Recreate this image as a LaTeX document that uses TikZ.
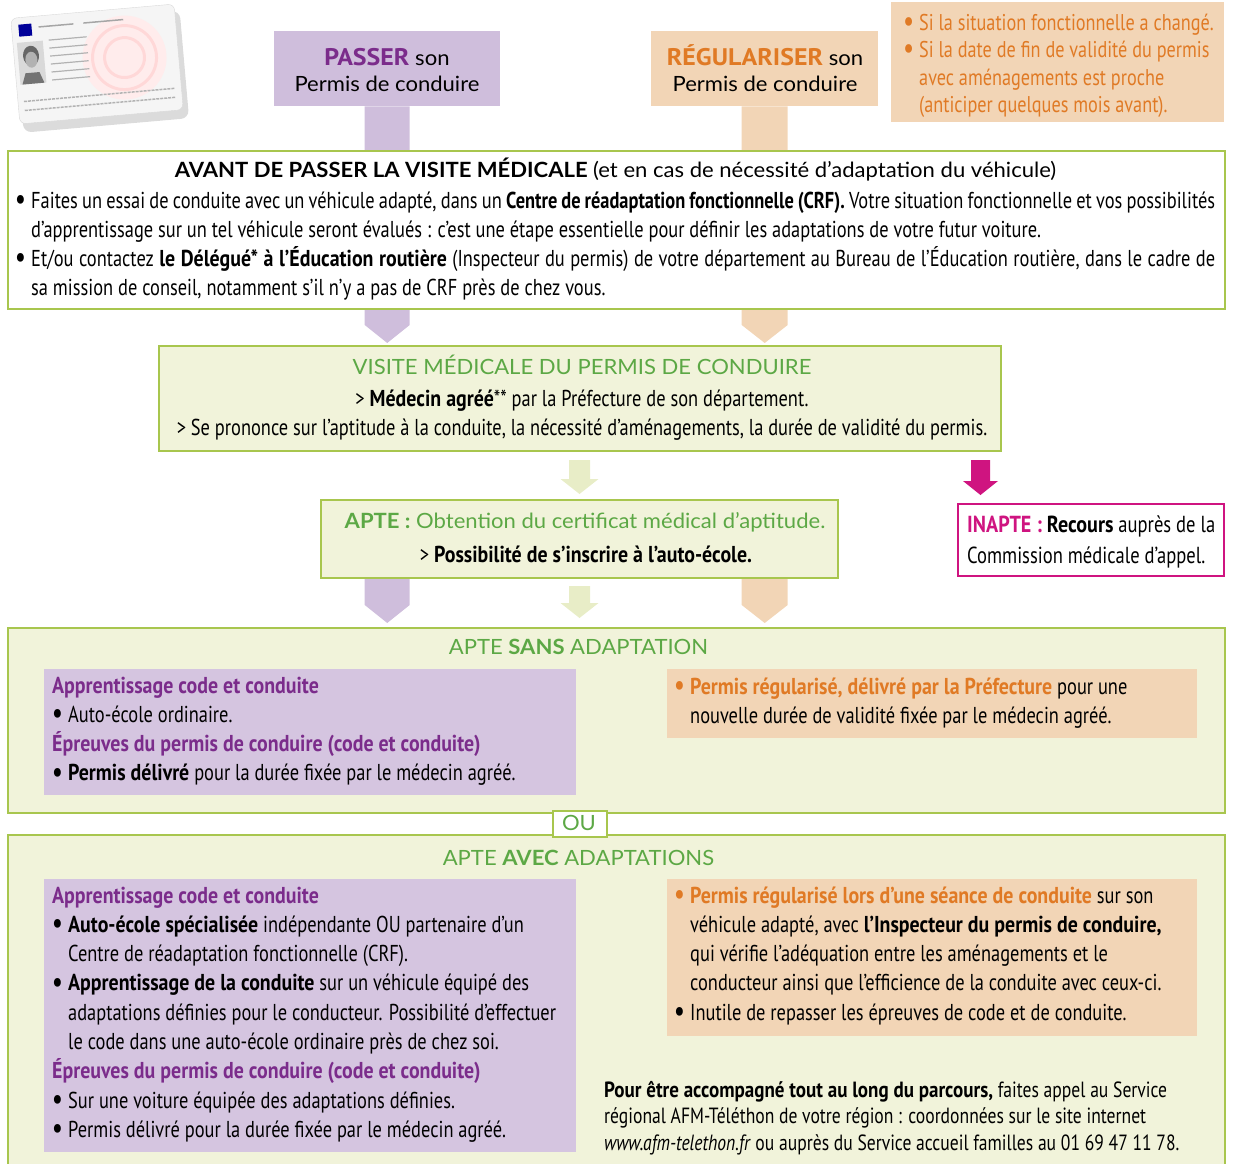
\documentclass[tikz,border=0pt]{standalone}
\usepackage{fontspec}
\setmainfont{Lato}[FakeStretch=1.05]
\newfontfamily\cnd{PT Sans}[FakeStretch=0.80,BoldFeatures={FakeStretch=0.865}]
\newfontfamily\cndb{PT Sans Bold}[FakeStretch=0.80]
\newfontfamily\sem[FakeStretch=1.08]{PT Sans}
\usetikzlibrary{positioning,calc,backgrounds}
\definecolor{lav}{HTML}{CFBEDC}
\definecolor{lavP}{HTML}{D5C5E0}
\definecolor{peach}{HTML}{F2D5B6}
\definecolor{lgreen}{HTML}{F1F3DA}
\definecolor{gline}{HTML}{A8C64E}
\definecolor{garrow}{HTML}{E8EDC7}
\definecolor{gtext}{HTML}{5CA845}
\definecolor{ptext}{HTML}{7B2C8B}
\definecolor{otext}{HTML}{E07A25}
\definecolor{mag}{HTML}{CF1480}
\newcommand{\dotb}{\raisebox{-0.1ex}{\scalebox{1.35}{\textbullet}}}
\newcommand{\bul}{\leavevmode\llap{\dotb\hspace{5pt}}}
\newcommand{\obul}{\leavevmode\llap{{\color{otext}\dotb}\hspace{5pt}}}
\newcommand{\phd}[1]{\leavevmode\hspace*{-16pt}{\bfseries\color{ptext}#1}}
% colour, top, tip, bar half width, head half width, head length
\newcommand{\fatdown}[6]{%
  \fill[#1] let \p1=#2, \p2=#3 in
    (\x2-#4,\y1) -- (\x2+#4,\y1) -- (\x2+#4,\y2+#6) -- (\x2+#5,\y2+#6)
    -- (\x2,\y2) -- (\x2-#5,\y2+#6) -- (\x2-#4,\y2+#6) -- cycle;}
\begin{document}
\begin{tikzpicture}[x=1pt,y=-1pt,
	box/.style={inner sep=0pt,anchor=north west},
	gbox/.style={box,draw=gline,line width=2pt,fill=lgreen},
	body/.style={inner sep=0pt,anchor=base west,font=\cnd\fontsize{23}{29.3}\selectfont},
	hd/.style={inner sep=0pt,anchor=base,font=\fontsize{21}{24}\selectfont}]
	\useasboundingbox (0,0) rectangle (1234,1163);
	% permis card
	\begin{scope}[shift={(97,64)},rotate=5]
	\fill[black!40,opacity=.35,rounded corners=8pt] (-79,-46) rectangle (87,62);
	\draw[fill=black!4,draw=black!15,rounded corners=6pt] (-82,-53) rectangle (82,53);
	\fill[pink!30] (28,-4) circle (42);
	\draw[pink!80,line width=3pt,opacity=.6] (28,-4) circle (32) (28,-4) circle (20);
	\fill[blue!60!black] (-75,-46) rectangle (-62,-34);
	\draw[black!35,line width=1.5pt] (-55,-42) -- (-20,-42) (-10,-42) -- (30,-42);
	\fill[black!15] (-78,-28) rectangle (-52,14);
	\fill[black!60] (-65,-14) ellipse (8 and 10);
	\fill[black!30] (-65,-10) ellipse (6 and 8);
	\fill[black!55] (-76,14) -- (-72,3) -- (-58,3) -- (-54,14) -- cycle;
	\foreach \y in {-28,-20,...,12}
		\draw[black!30,line width=1.2pt] (-46,\y) -- (-8,\y);
	\draw[black!30,line width=1.5pt,dash pattern=on 3pt off 1pt] (-76,31) -- (76,31) (-76,40) -- (76,40);
	\end{scope}
	% boxes
	\node[box,fill=lav,minimum width=226pt,minimum height=75pt] (passer) at (274,31) {};
	\node[box,fill=peach,minimum width=227pt,minimum height=75pt] (regul) at (651,31) {};
	\node[box,fill=peach,minimum width=333pt,minimum height=120pt] (note) at (891,2) {};
	\node[gbox,fill=white,minimum width=1217pt,minimum height=158pt] (avant) at (7,150) {};
	\node[gbox,minimum width=842pt,minimum height=105pt] (visite) at (158,345) {};
	\node[gbox,minimum width=517pt,minimum height=78pt] (apte) at (320,499) {};
	\node[box,draw=mag,line width=1.5pt,fill=white,minimum width=266pt,minimum height=72pt] (inapte) at (957,503) {};
	\node[gbox,minimum width=1217pt,minimum height=185pt] (sans) at (7,627) {};
	\node[box,fill=lavP,minimum width=532pt,minimum height=126pt] (sansP) at (44,669) {};
	\node[box,fill=peach,minimum width=530pt,minimum height=69pt] (sansO) at (667,669) {};
	\node[gbox,minimum width=1217pt,minimum height=345pt] (avec) at (7,834) {};
	\node[box,fill=lavP,minimum width=532pt,minimum height=273pt] (avecP) at (44,879) {};
	\node[box,fill=peach,minimum width=530pt,minimum height=157pt] (avecO) at (667,879) {};
	\node[gbox,fill=white,minimum width=54pt,minimum height=26pt] (ou) at (552,810) {};
	% arrows
	\begin{pgfonlayer}{background}
	\fatdown{lav}{(passer.south)}{($(passer.south |- visite.north)+(0,-2)$)}{22.5}{22.5}{18}
	\fatdown{peach}{(regul.south)}{($(regul.south |- visite.north)+(0,-2)$)}{23}{23}{18}
	\fatdown{lav}{(passer.south |- apte.south)}{($(passer.south |- sans.north)+(0,-4)$)}{22.5}{22.5}{18}
	\fatdown{peach}{(regul.south |- apte.south)}{($(regul.south |- sans.north)+(0,-4)$)}{23}{23}{18}
	\end{pgfonlayer}
	\fatdown{garrow}{($(visite.south)+(0,8)$)}{($(apte.north)+(0,-5)$)}{10.5}{19}{15}
	\fatdown{garrow}{($(apte.south)+(0,7)$)}{($(apte.south |- sans.north)+(0,-9)$)}{10.5}{19}{15}
	\fatdown{mag}{($(visite.south -| inapte.north west)+(23.5,8)$)}{($(inapte.north west)+(23.5,-8)$)}{9.5}{17.5}{14}
	% texts
	\node[hd] (passerA) at (387,65) {{\sem\bfseries\fontsize{24}{24}\selectfont\color{ptext}PASSER} son};
	\node[hd] (passerB) at (387,91) {Permis de conduire};
	\node[hd] (regulA) at (765,65) {{\sem\bfseries\fontsize{24}{24}\selectfont\color{otext}RÉGULARISER} son};
	\node[hd] (regulB) at (765,91) {Permis de conduire};
	\node[body,text=otext,font=\cnd\fontsize{22.8}{27.5}\selectfont] (noteT) at (919,30) {\parbox[t]{320pt}{\raggedright
		\bul Si la situation fonctionnelle a changé.\\
		\bul Si la date de fin de validité du permis\\
		avec aménagements est proche\\
		(anticiper quelques mois avant).}};
	\node[hd] (avantH) at (615.5,177) {\textbf{AVANT DE PASSER LA VISITE MÉDICALE} (et en cas de nécessité d’adaptation du véhicule)};
	\node[body] (avantT) at (31,208) {\parbox[t]{1184pt}{%
		\makebox[\linewidth][s]{\bul Faites un essai de conduite avec un véhicule adapté, dans un {\cndb Centre de réadaptation fonctionnelle (CRF).} Votre situation fonctionnelle et vos possibilités}\\
		d’apprentissage sur un tel véhicule seront évalués : c’est une étape essentielle pour définir les adaptations de votre futur voiture.\\
		\makebox[\linewidth][s]{\bul Et/ou contactez \textbf{le Délégué* à l’Éducation routière} (Inspecteur du permis) de votre département au Bureau de l’Éducation routière, dans le cadre de}\\
		sa mission de conseil, notamment s’il n’y a pas de CRF près de chez vous.}};
	\node[hd,text=gtext] (visiteH) at (582,374) {VISITE MÉDICALE DU PERMIS DE CONDUIRE};
	\node[body,anchor=base] (visiteT) at (582,406) {\parbox[t]{900pt}{\centering
		> \textbf{Médecin agréé}** par la Préfecture de son département.\\
		> Se prononce sur l’aptitude à la conduite, la nécessité d’aménagements, la durée de validité du permis.}};
	\node[hd,text=gtext] (apteH) at (585,528) {\textbf{APTE :} Obtention du certificat médical d’aptitude.};
	\node[body,anchor=base] (apteT) at (586,562) {> \textbf{Possibilité de s’inscrire à l’auto-école.}};
	\node[body,font=\cnd\fontsize{23.2}{31}\selectfont] (inapteT) at (967,532) {\parbox[t]{300pt}{\raggedright\leavevmode
		{\bfseries\color{mag}INAPTE :} \textbf{Recours} auprès de la\\
		Commission médicale d’appel.}};
	\node[hd,text=gtext] (sansH) at (578.5,654) {APTE \textbf{SANS} ADAPTATION};
	\node[body] (sansPT) at (68,693) {\parbox[t]{600pt}{\raggedright
		\phd{Apprentissage code et conduite}\\
		\bul Auto-école ordinaire.\\
		\phd{Épreuves du permis de conduire (code et conduite)}\\
		\bul\textbf{Permis délivré} pour la durée fixée par le médecin agréé.}};
	\node[body] (sansOT) at (690,694) {\parbox[t]{600pt}{\raggedright
		\obul{\bfseries\color{otext}Permis régularisé, délivré par la Préfecture} pour une\\
		nouvelle durée de validité fixée par le médecin agréé.}};
	\node[hd,text=gtext] (ouT) at (579,830) {OU};
	\node[hd,text=gtext] (avecH) at (578.5,865) {APTE \textbf{AVEC} ADAPTATIONS};
	\node[body] (avecPT) at (68,903) {\parbox[t]{600pt}{\raggedright
		\phd{Apprentissage code et conduite}\\
		\bul\textbf{Auto-école spécialisée} indépendante OU partenaire d’un\\
		Centre de réadaptation fonctionnelle (CRF).\\
		\bul\textbf{Apprentissage de la conduite} sur un véhicule équipé des\\
		adaptations définies pour le conducteur. Possibilité d’effectuer\\
		le code dans une auto-école ordinaire près de chez soi.\\
		\phd{Épreuves du permis de conduire (code et conduite)}\\
		\bul Sur une voiture équipée des adaptations définies.\\
		\bul Permis délivré pour la durée fixée par le médecin agréé.}};
	\node[body] (avecOT) at (690,903) {\parbox[t]{600pt}{\raggedright
		\obul{\bfseries\color{otext}Permis régularisé lors d’une séance de conduite} sur son\\
		véhicule adapté, avec \textbf{l’Inspecteur du permis de conduire,}\\
		qui vérifie l’adéquation entre les aménagements et le\\
		conducteur ainsi que l’efficience de la conduite avec ceux-ci.\\
		\bul Inutile de repasser les épreuves de code et de conduite.}};
	\node[body,font=\cnd\fontsize{22}{26.5}\selectfont] (footT) at (604,1097) {\parbox[t]{700pt}{\raggedright
		\textbf{Pour être accompagné tout au long du parcours,} faites appel au Service\\
		régional AFM-Téléthon de votre région : coordonnées sur le site internet\\
		\textit{www.afm-telethon.fr} ou auprès du Service accueil familles au 01 69 47 11 78.}};
\end{tikzpicture}
\end{document}
